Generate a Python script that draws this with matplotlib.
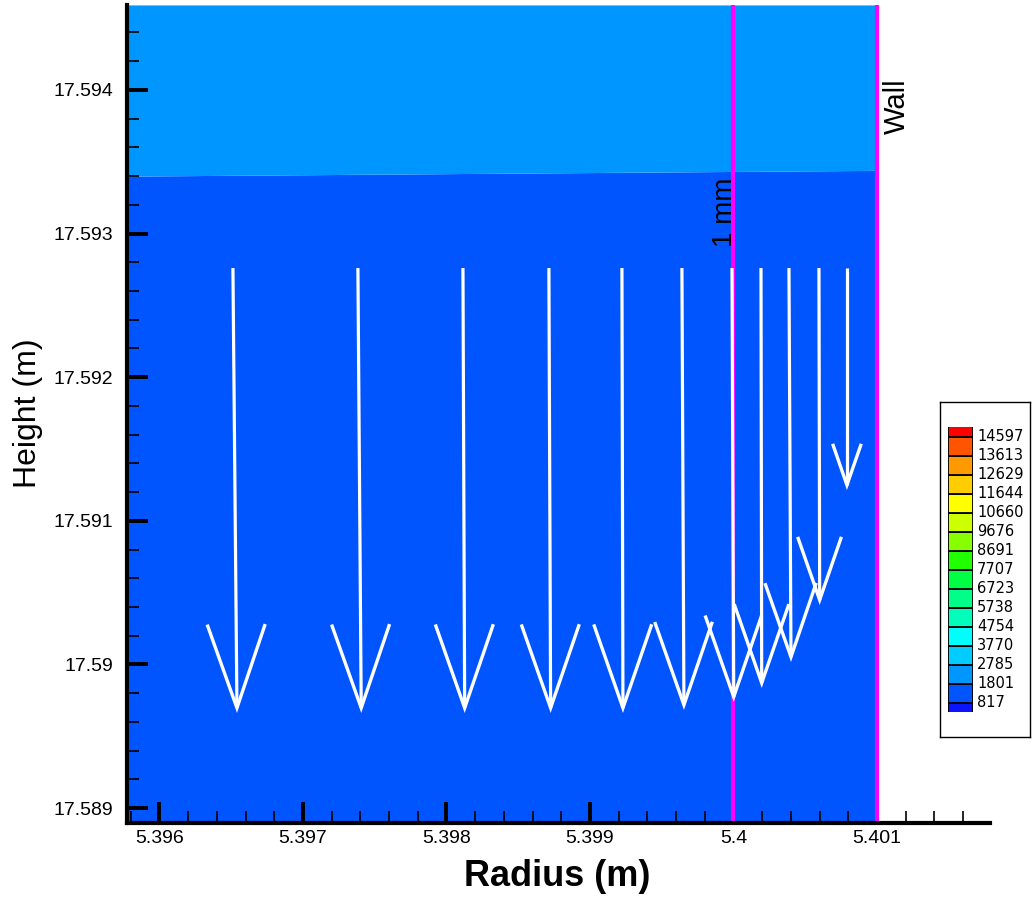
import matplotlib
matplotlib.use('Agg')
import matplotlib.pyplot as plt
from matplotlib.colors import ListedColormap, BoundaryNorm
from matplotlib.ticker import MultipleLocator, FuncFormatter
import numpy as np

# ── Contour levels and band colours (legend) ──
levels = [817, 1801, 2785, 3770, 4754, 5738, 6723, 7707, 8691, 9676,
          10660, 11644, 12629, 13613, 14597]
band_colors = ['#0a14ff', '#0055ff', '#0096ff', '#00ccff', '#00ffff', '#00ffbb',
               '#00ff88', '#00ff44', '#22ff00', '#88ff00', '#ccff00', '#ffff00',
               '#ffcc00', '#ff9900', '#ff5500', '#ff0000']

# ── Contour field: interface between the two bands present in the window ──
interface_r = [5.39577, 5.40100]
interface_z = [17.59340, 17.59344]
value_below = 1300
value_above = 2300

# ── Velocity vectors (tail position, radial / axial velocity) ──
vec_r = [5.396512, 5.397383, 5.398115, 5.398714, 5.399223, 5.399641,
         5.399990, 5.400192, 5.400387, 5.400596, 5.400791]
vec_z = [17.59276, 17.59276, 17.59276, 17.59276, 17.59276, 17.59276,
         17.59276, 17.59276, 17.59276, 17.59276, 17.59276]
vec_u = [0.028, 0.023, 0.012, 0.012, 0.007, 0.014, 0.012, 0.005, 0.014, 0.005, 0.0]
vec_w = [-3.063, -3.063, -3.063, -3.063, -3.063, -3.042, -2.986, -2.889,
         -2.708, -2.311, -1.511]
vec_scale = 1e-3

line_1mm = 5.400
wall_r = 5.401

plt.rcParams['font.family'] = ['Liberation Sans', 'DejaVu Sans']

cmap = ListedColormap(band_colors)
norm = BoundaryNorm(levels, ncolors=len(band_colors), extend='both')

fig = plt.figure(figsize=(10.33, 8.98), dpi=100)
ax = fig.add_axes([0.1229, 0.0835, 0.8354, 0.9110])
xlo, xhi = 5.3957735, 5.4017875
ylo, yhi = 17.5888955, 17.5945919
ax.set_xlim(xlo, xhi)
ax.set_ylim(ylo, yhi)

# filled contour bands up to the wall
ax.fill_between(interface_r, ylo, interface_z, color=cmap(norm(value_below)),
                lw=0, zorder=1)
ax.fill_between(interface_r, interface_z, yhi, color=cmap(norm(value_above)),
                lw=0, zorder=1)

# reference lines
for xr in (line_1mm, wall_r):
    ax.axvline(xr, color='#ff00ff', lw=3, zorder=2)
ax.text(line_1mm - 0.000007, 17.593151, '1 mm', rotation=90, rotation_mode='anchor',
        ha='center', va='baseline', fontsize=20, color='black')
ax.text(wall_r + 0.000195, 17.593889, 'Wall', rotation=90, rotation_mode='anchor',
        ha='center', va='baseline', fontsize=21, color='black')

# vectors: head size proportional to arrow length
for r, z, u, w in zip(vec_r, vec_z, vec_u, vec_w):
    dx, dy = u * vec_scale, w * vec_scale
    L = np.hypot(dx, dy)
    ux, uy = dx / L, dy / L
    tx, ty = r + dx, z + dy
    bx, by = tx - 0.19 * L * ux, ty - 0.19 * L * uy
    px, py = -uy * 0.066 * L, ux * 0.066 * L
    ax.plot([r, tx], [z, ty], color='white', lw=2.3, solid_capstyle='butt', zorder=4)
    ax.plot([bx + px, tx, bx - px], [by + py, ty, by - py], color='white', lw=2.4,
            solid_joinstyle='miter', solid_capstyle='butt', zorder=4)

# axes styling
for s in ('top', 'right'):
    ax.spines[s].set_visible(False)
for s in ('left', 'bottom'):
    ax.spines[s].set_linewidth(3)
ax.xaxis.set_major_locator(MultipleLocator(0.001))
ax.xaxis.set_minor_locator(MultipleLocator(0.0002))
ax.yaxis.set_major_locator(MultipleLocator(0.001))
ax.yaxis.set_minor_locator(MultipleLocator(0.0002))
fmt = FuncFormatter(lambda v, p: f'{v:g}')
ax.xaxis.set_major_formatter(fmt)
ax.yaxis.set_major_formatter(fmt)
ax.tick_params(which='major', direction='in', length=15, width=2.8, labelsize=14)
ax.tick_params(which='minor', direction='in', length=8.5, width=1.2)
ax.tick_params(axis='y', which='major', pad=10)
ax.tick_params(axis='x', which='major', pad=5)

fig.text(557 / 1033, 1 - 876 / 898, 'Radius (m)', ha='center', va='center',
         fontsize=26, fontweight='bold')
fig.text(28 / 1033, 1 - 413 / 898, 'Height (m)', ha='center', va='center',
         rotation=90, fontsize=23)

# ── Contour legend ──
frame = fig.add_axes([940 / 1033, 1 - 737 / 898, 90 / 1033, 335 / 898])
frame.set_xticks([])
frame.set_yticks([])
for s in frame.spines.values():
    s.set_linewidth(1)

leg = fig.add_axes([948 / 1033, 1 - 712 / 898, 25 / 1033, 285 / 898])
leg.set_xlim(0, 1)
leg.set_ylim(-0.5, len(levels) - 0.5)
leg.axis('off')
for i, c in enumerate(band_colors):
    leg.bar(0.5, 1, bottom=i - 1, width=1, color=c, edgecolor='black', lw=1.3)
for i, lv in enumerate(levels):
    leg.text(1.16, i, str(lv), ha='left', va='center', fontsize=10.5,
             family='DejaVu Sans', clip_on=False)

fig.savefig('out.png', dpi=100, facecolor='white')
